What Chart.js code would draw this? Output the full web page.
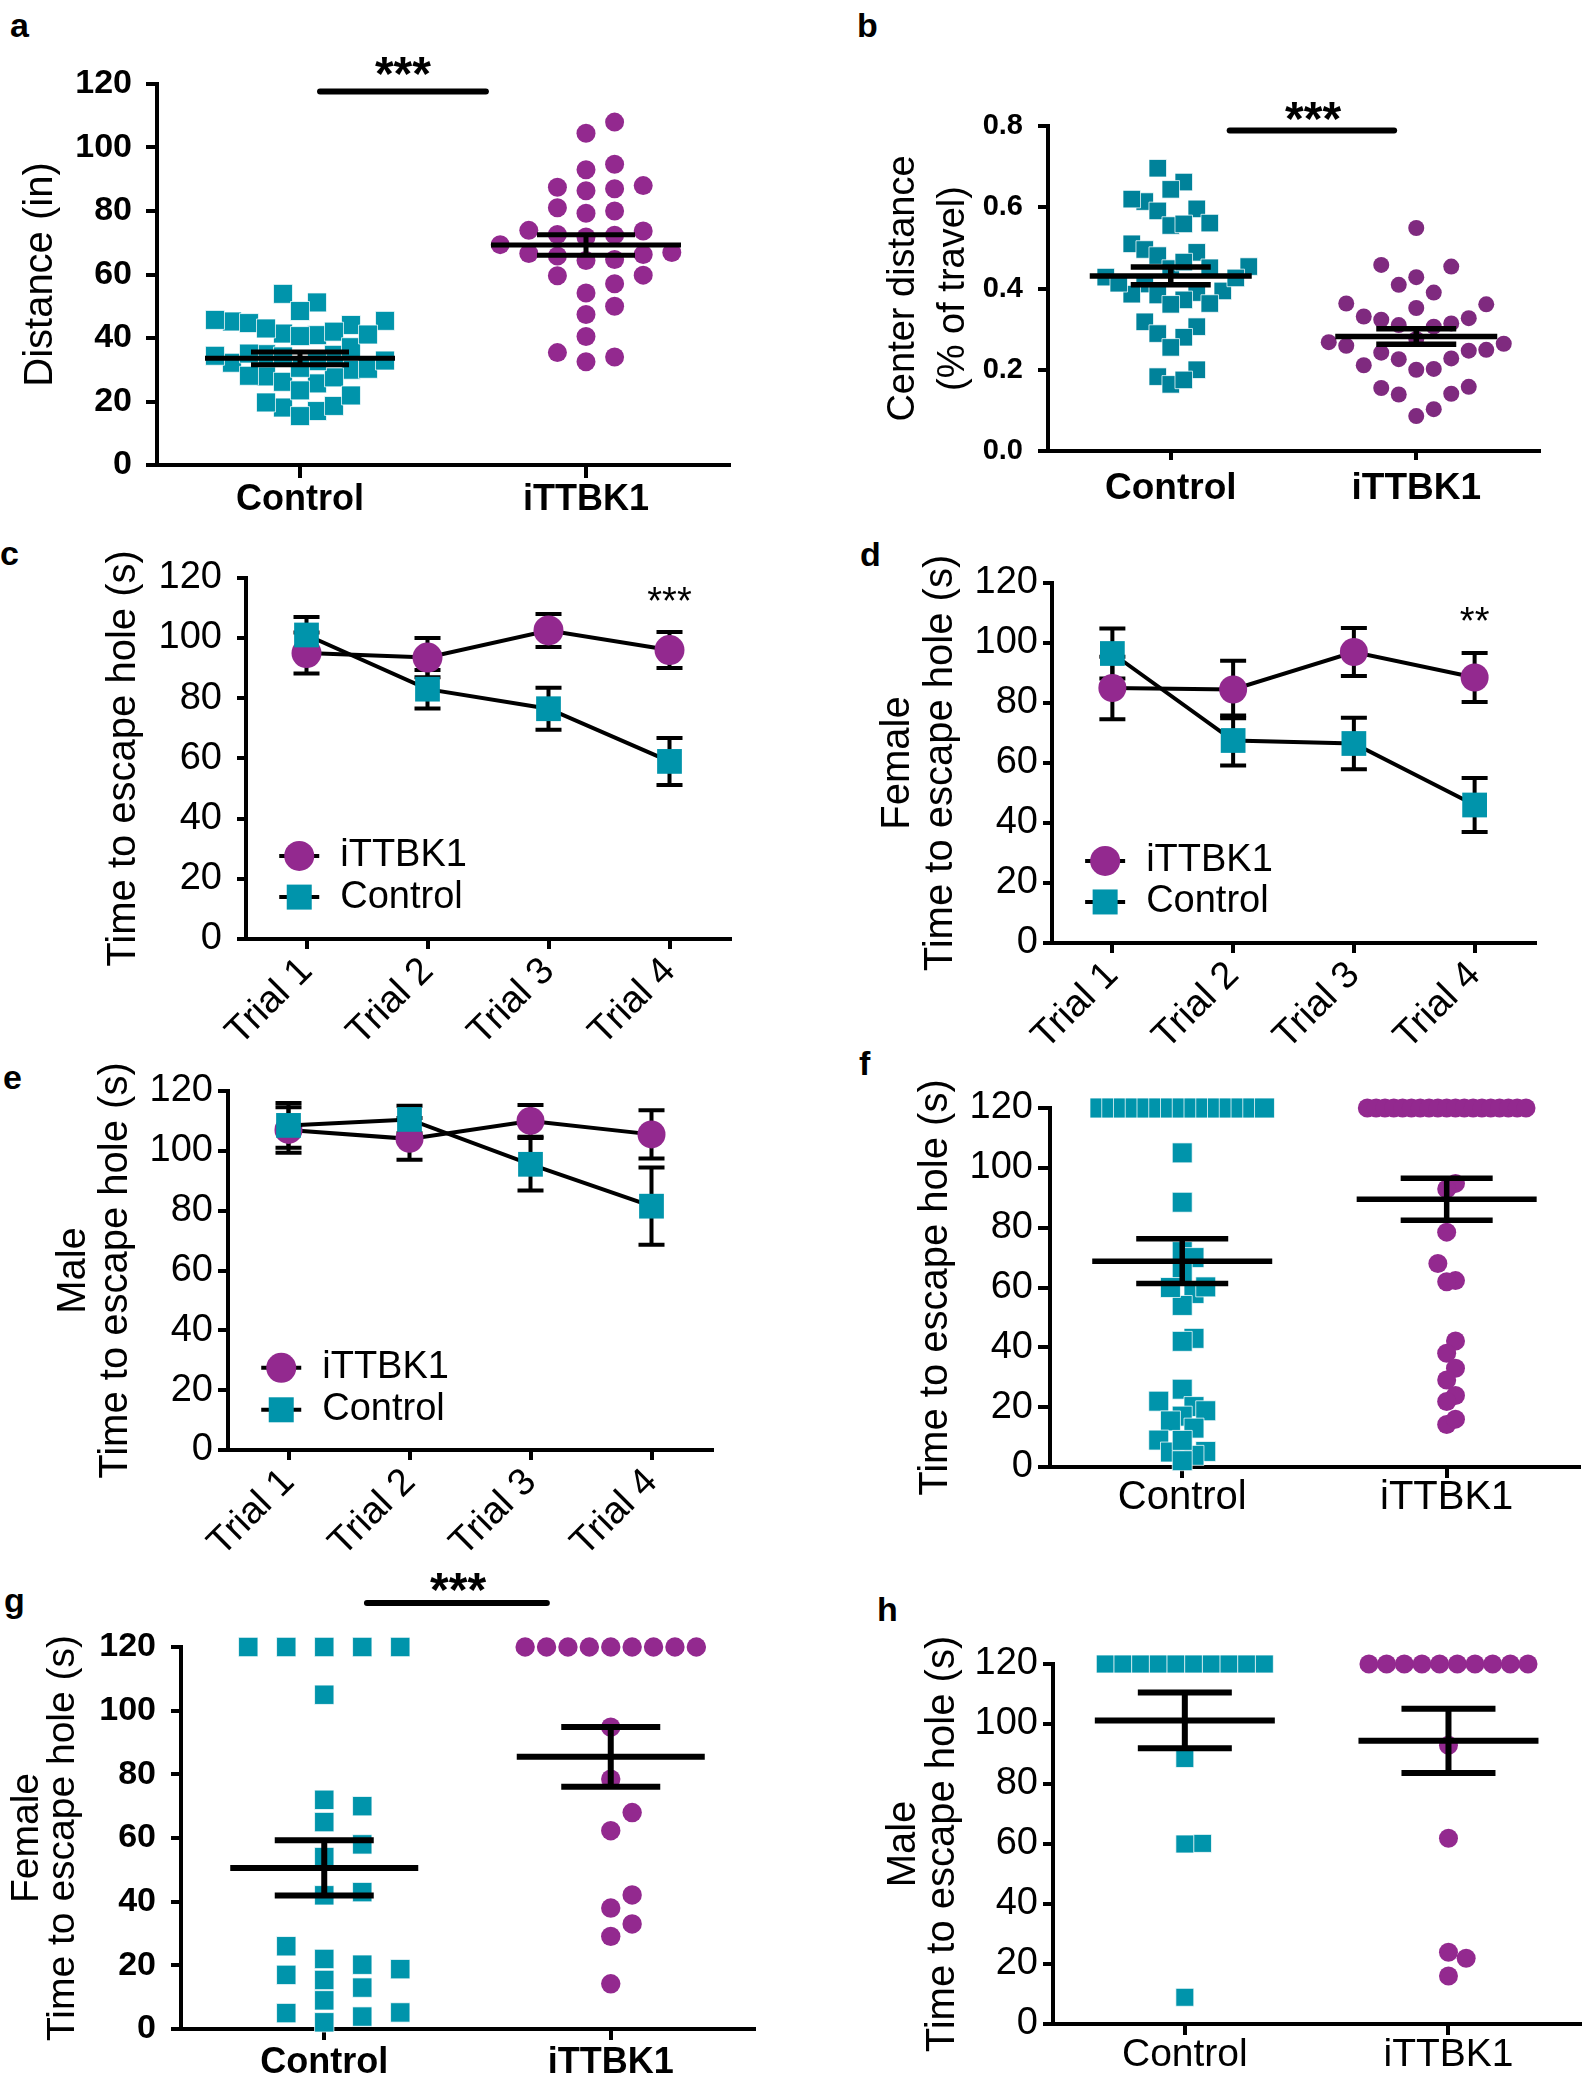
<!DOCTYPE html>
<html>
<head>
<meta charset="utf-8">
<title>iTTBK1 behaviour</title>
<script src="https://cdn.jsdelivr.net/npm/chart.js@4.4.0/dist/chart.umd.min.js"></script>
<style>
  body { margin: 0; background: #fff; }
  #page { position: relative; width: 1594px; height: 2091px; overflow: hidden; font-family: 'Liberation Sans', Arial, sans-serif; }
  canvas { position: absolute; }
  .tag { position: absolute; font-weight: bold; font-size: 34px; line-height: 1; }
</style>
</head>
<body>
<div id="page">
  <span class="tag" style="left:10px;top:8px">a</span>
  <span class="tag" style="left:857px;top:8px">b</span>
  <span class="tag" style="left:0px;top:536px">c</span>
  <span class="tag" style="left:860px;top:537px">d</span>
  <span class="tag" style="left:3px;top:1060px">e</span>
  <span class="tag" style="left:859px;top:1046px">f</span>
  <span class="tag" style="left:4px;top:1583px">g</span>
  <span class="tag" style="left:877px;top:1592px">h</span>
  <canvas id="chartA"></canvas>
  <canvas id="chartB"></canvas>
  <canvas id="chartC"></canvas>
  <canvas id="chartD"></canvas>
  <canvas id="chartE"></canvas>
  <canvas id="chartF"></canvas>
  <canvas id="chartG"></canvas>
  <canvas id="chartH"></canvas>
</div>
<script>
const groups = ['Control', 'iTTBK1'];
const trials = ['Trial 1', 'Trial 2', 'Trial 3', 'Trial 4'];

// a - distance travelled (in)
const distControl = [51.2, 44.1, 34.9, 27.9, 45.2, 45.7, 45.4, 30.0, 40.9, 17.0, 32.2, 25.7, 18.6, 41.4, 34.7, 26.2, 18.1, 53.9, 42.0, 34.4, 27.6, 19.7, 48.5, 40.6, 32.7, 23.5, 15.4, 44.7, 37.1, 30.6, 21.9, 41.1, 35.1, 28.1, 43.0, 30.3, 32.9, 34.2];
const distTTBK1 = [108.0, 104.5, 94.7, 93.0, 88.0, 87.0, 86.4, 87.5, 81.0, 79.3, 80.0, 72.6, 73.7, 73.9, 72.4, 71.8, 69.4, 66.6, 65.8, 66.9, 64.4, 66.3, 64.7, 59.8, 59.6, 57.1, 54.2, 50.0, 47.4, 40.5, 35.4, 34.0, 32.5];
const distMean = [33.6, 69.3];
const distSem = [2.0, 3.2];

// b - centre distance (fraction of travel)
const centreControl = [0.696, 0.662, 0.644, 0.614, 0.620, 0.591, 0.596, 0.561, 0.555, 0.559, 0.510, 0.496, 0.489, 0.481, 0.454, 0.451, 0.449, 0.465, 0.428, 0.411, 0.394, 0.390, 0.386, 0.384, 0.372, 0.413, 0.426, 0.361, 0.363, 0.318, 0.306, 0.280, 0.289, 0.255, 0.200, 0.183, 0.164, 0.175];
const centreTTBK1 = [0.549, 0.458, 0.454, 0.428, 0.409, 0.390, 0.361, 0.363, 0.352, 0.331, 0.323, 0.310, 0.306, 0.314, 0.327, 0.276, 0.264, 0.247, 0.242, 0.226, 0.228, 0.249, 0.259, 0.268, 0.200, 0.202, 0.211, 0.139, 0.158, 0.155, 0.141, 0.086, 0.103];
const centreMean = [0.431, 0.282];
const centreSem = [0.022, 0.019];

// c - escape latency per trial, all mice
const allTTBK1 = [95, 93.5, 102.5, 96];
const allTTBK1Sem = [6.8, 6.5, 5.5, 6];
const allControl = [101, 83, 76.5, 59];
const allControlSem = [6, 6.4, 7, 7.8];

// d - females
const femTTBK1 = [85, 84.5, 97, 88.5];
const femTTBK1Sem = [10.4, 9.6, 8, 8.2];
const femControl = [96.5, 67.5, 66.5, 46];
const femControlSem = [8.3, 8.3, 8.6, 9];

// e - males
const maleTTBK1 = [107, 104, 110, 105.5];
const maleTTBK1Sem = [7.6, 7, 5.3, 8.1];
const maleControl = [108.5, 110.5, 95.5, 81.5];
const maleControlSem = [7.5, 4.6, 8.8, 12.9];

// g / h - trial 4 latency per mouse (120 = did not escape)
const femT4Control = [120, 120, 120, 120, 120, 105, 72, 70, 65, 58, 54, 43, 42, 26, 22, 20.2, 18.8, 17, 15.4, 13, 9, 5.2, 5, 3.9, 2.1];
const femT4TTBK1 = [120, 120, 120, 120, 120, 120, 120, 120, 120, 94.8, 78.5, 68, 62.3, 42.1, 38, 33, 29.1, 14.2];
const maleT4Control = [120, 120, 120, 120, 120, 120, 120, 120, 120, 120, 88.5, 60.2, 60, 8.9];
const maleT4TTBK1 = [120, 120, 120, 120, 120, 120, 120, 120, 120, 120, 92.9, 61.9, 23.9, 21.9, 16];
// f - both sexes pooled
const allT4Control = femT4Control.concat(maleT4Control);
const allT4TTBK1 = femT4TTBK1.concat(maleT4TTBK1);

const femT4Mean = [50.6, 85.5], femT4Sem = [8.7, 9.4];
const maleT4Mean = [101.2, 94.4], maleT4Sem = [9.3, 10.7];
const allT4Mean = [68.8, 89.5], allT4Sem = [7.5, 7.0];

const TEAL = '#0094AB';
const PURPLE = '#93298F';
const TEAL_B = '#00829A';
const PURPLE_B = '#7F2A7F';
const FONT = "'Liberation Sans', Arial, sans-serif";

Chart.defaults.font.family = FONT;
Chart.defaults.color = '#000';
Chart.defaults.animation = false;
Chart.defaults.events = [];
Chart.defaults.plugins.legend.display = false;
Chart.defaults.plugins.tooltip.enabled = false;

// GraphPad style column scatter: equal values become a centred row,
// the others are pushed sideways until they stop overlapping
function swarm(values, gap) {
  const cols = new Array(values.length);
  const counts = {};
  values.forEach(v => { counts[v] = (counts[v] || 0) + 1; });
  const rowSeen = {};
  const taken = [];
  values.map((v, i) => i).sort((p, q) => values[p] - values[q]).forEach(i => {
    const v = values[i];
    if (counts[v] >= 4) {
      const k = rowSeen[v] = (rowSeen[v] || 0) + 1;
      cols[i] = k - 1 - (counts[v] - 1) / 2;
      return;
    }
    for (let k = 0; ; k++) {
      const c = k % 2 ? (k + 1) / 2 : -k / 2;
      if (!taken.some(t => t.c === c && Math.abs(t.v - v) < gap)) {
        taken.push({ c, v });
        cols[i] = c;
        return;
      }
    }
  });
  return cols;
}

function meanSem(mean, sem, st) {
  return {
    id: 'meanSem',
    afterDatasetsDraw(chart) {
      const { ctx, scales: { x, y } } = chart;
      ctx.save();
      ctx.strokeStyle = '#000';
      ctx.lineWidth = st.width;
      mean.forEach((m, i) => {
        const cx = x.getPixelForValue(i + 1);
        const my = y.getPixelForValue(m);
        const hi = y.getPixelForValue(m + sem[i]);
        const lo = y.getPixelForValue(m - sem[i]);
        ctx.beginPath();
        ctx.moveTo(cx - st.half, my); ctx.lineTo(cx + st.half, my);
        ctx.moveTo(cx - st.cap, hi); ctx.lineTo(cx + st.cap, hi);
        ctx.moveTo(cx - st.cap, lo); ctx.lineTo(cx + st.cap, lo);
        ctx.moveTo(cx, hi); ctx.lineTo(cx, lo);
        ctx.stroke();
      });
      ctx.restore();
    }
  };
}

function errorBars(series, cap, width) {
  return {
    id: 'errorBars',
    beforeDatasetsDraw(chart) {
      const { ctx, scales: { x, y } } = chart;
      ctx.save();
      ctx.strokeStyle = '#000';
      ctx.lineWidth = width;
      series.forEach(s => s.mean.forEach((m, i) => {
        const px = x.getPixelForValue(i);
        const top = y.getPixelForValue(m + s.sem[i]);
        const bot = y.getPixelForValue(m - s.sem[i]);
        ctx.beginPath();
        ctx.moveTo(px, top); ctx.lineTo(px, bot);
        ctx.moveTo(px - cap, top); ctx.lineTo(px + cap, top);
        ctx.moveTo(px - cap, bot); ctx.lineTo(px + cap, bot);
        ctx.stroke();
      }));
      ctx.restore();
    }
  };
}

function lineLegend(items, o) {
  return {
    id: 'lineLegend',
    afterDraw(chart) {
      const { ctx, chartArea: a } = chart;
      ctx.save();
      items.forEach((it, k) => {
        const cx = a.left + o.fx * (a.right - a.left);
        const cy = a.top + (o.fy + k * o.dy) * (a.bottom - a.top);
        ctx.strokeStyle = '#000';
        ctx.lineWidth = 4;
        ctx.beginPath(); ctx.moveTo(cx - 20, cy); ctx.lineTo(cx + 20, cy); ctx.stroke();
        ctx.fillStyle = it.color;
        if (it.shape === 'circle') {
          ctx.beginPath(); ctx.arc(cx, cy, it.r, 0, Math.PI * 2); ctx.fill();
        } else {
          ctx.fillRect(cx - it.r, cy - it.r, it.r * 2, it.r * 2);
        }
        ctx.fillStyle = '#000';
        ctx.font = o.size + 'px ' + FONT;
        ctx.textBaseline = 'middle';
        ctx.fillText(it.label, cx + 41, cy);
      });
      ctx.restore();
    }
  };
}

function sigMark(m) {
  return {
    id: 'sigMark',
    afterDraw(chart) {
      const { ctx, scales: { x, y } } = chart;
      ctx.save();
      if (m.bar) {
        const yy = y.getPixelForValue(m.bar[2]);
        ctx.strokeStyle = '#000';
        ctx.lineWidth = 6;
        ctx.lineCap = 'round';
        ctx.beginPath();
        ctx.moveTo(x.getPixelForValue(m.bar[0]), yy);
        ctx.lineTo(x.getPixelForValue(m.bar[1]), yy);
        ctx.stroke();
      }
      ctx.fillStyle = '#000';
      ctx.font = m.font;
      ctx.textAlign = 'center';
      ctx.textBaseline = 'alphabetic';
      ctx.fillText(m.text, x.getPixelForValue(m.at[0]), y.getPixelForValue(m.at[1]));
      ctx.restore();
    }
  };
}

function place(id, box) {
  const c = document.getElementById(id);
  c.width = box.w;
  c.height = box.h;
  c.style.left = box.x + 'px';
  c.style.top = box.y + 'px';
  return c;
}

function yScale(box, o) {
  return {
    min: o.min,
    max: o.max,
    afterFit: s => { s.width = box.yW; },
    border: { color: '#000', width: 4 },
    grid: { drawOnChartArea: false, color: '#000', lineWidth: 4, tickLength: o.tick },
    ticks: {
      stepSize: o.step,
      padding: o.pad,
      font: { size: o.size, weight: o.bold ? 'bold' : 'normal' },
      callback: o.fmt || (v => v)
    },
    title: {
      display: true,
      text: o.title,
      font: { size: o.tsize, lineHeight: o.tlh },
      padding: { top: o.tpad, bottom: 0 }
    }
  };
}

function groupScale(box, o) {
  return {
    type: 'linear',
    min: 0.5,
    max: 2.5,
    afterFit: s => { s.height = box.xH; },
    afterBuildTicks: s => { s.ticks = [{ value: 1 }, { value: 2 }]; },
    border: { color: '#000', width: 4 },
    grid: { drawOnChartArea: false, color: '#000', lineWidth: 4, tickLength: o.tick },
    ticks: {
      padding: o.pad,
      autoSkip: false,
      maxRotation: 0,
      font: { size: o.size, weight: o.bold ? 'bold' : 'normal', lineHeight: 1 },
      callback: v => groups[v - 1]
    }
  };
}

function trialScale(box) {
  return {
    type: 'category',
    offset: true,
    afterFit: s => { s.height = box.xH; },
    border: { color: '#000', width: 4 },
    grid: { offset: false, drawOnChartArea: false, color: '#000', lineWidth: 4, tickLength: 10 },
    ticks: { minRotation: 45, maxRotation: 45, autoSkip: false, padding: 0, font: { size: 38 } }
  };
}

function dotChart(id, box, o) {
  const ppx = (box.w - box.right - box.yW) / 2;
  const ppy = (box.h - box.top - box.xH) / (o.y.max - o.y.min);
  const datasets = o.series.map((s, g) => {
    const cols = swarm(s.values, s.gap / ppy);
    return {
      type: 'scatter',
      label: groups[g],
      data: s.values.map((v, i) => ({ x: g + 1 + cols[i] * s.step / ppx, y: v })),
      pointStyle: s.shape,
      pointRadius: s.r,
      pointBackgroundColor: s.color,
      pointBorderColor: s.shape === 'rect' ? 'rgba(255,255,255,0.75)' : s.color,
      pointBorderWidth: s.shape === 'rect' ? 1 : 0,
      clip: false
    };
  });
  const plugins = [meanSem(o.mean, o.sem, o.bar)];
  if (o.sig) plugins.push(sigMark(o.sig));
  return new Chart(place(id, box), {
    type: 'scatter',
    data: { datasets },
    options: {
      responsive: false,
      layout: { padding: { left: 0, top: box.top, right: box.right, bottom: 0 } },
      scales: { x: groupScale(box, o.x), y: yScale(box, o.y) }
    },
    plugins
  });
}

function trialChart(id, box, o) {
  const ds = (label, vals, shape, r, color, order) => ({
    label,
    data: vals,
    pointStyle: shape,
    pointRadius: r,
    pointBackgroundColor: color,
    pointBorderWidth: 0,
    borderColor: '#000',
    borderWidth: 4,
    tension: 0,
    order,
    clip: false
  });
  const plugins = [
    errorBars([{ mean: o.ttbk, sem: o.ttbkSem }, { mean: o.ctrl, sem: o.ctrlSem }], 13, 4),
    lineLegend([
      { label: 'iTTBK1', shape: 'circle', r: 15, color: PURPLE },
      { label: 'Control', shape: 'rect', r: 12.5, color: TEAL }
    ], o.legend)
  ];
  if (o.sig) plugins.push(sigMark(o.sig));
  return new Chart(place(id, box), {
    type: 'line',
    data: {
      labels: trials,
      datasets: [
        ds('iTTBK1', o.ttbk, 'circle', o.rc, PURPLE, 1),
        ds('Control', o.ctrl, 'rect', 17.5, TEAL, 0)
      ]
    },
    options: {
      responsive: false,
      layout: { padding: { left: 0, top: box.top, right: box.right, bottom: 0 } },
      scales: { x: trialScale(box), y: yScale(box, o.y) }
    },
    plugins
  });
}

const latencyAxis = { min: 0, max: 120, step: 20, size: 38 };

// a
dotChart('chartA', { x: 0, y: 30, w: 790, h: 500, top: 54, right: 61, yW: 157, xH: 65 }, {
  series: [
    { values: distControl, shape: 'rect', r: 13.4, color: TEAL, step: 17, gap: 22 },
    { values: distTTBK1, shape: 'circle', r: 9.5, color: PURPLE, step: 28.6, gap: 19 }
  ],
  mean: distMean, sem: distSem, bar: { half: 95, cap: 49, width: 5 },
  x: { tick: 13, pad: 4, size: 36, bold: true },
  y: { min: 0, max: 120, step: 20, tick: 11, pad: 14, size: 34, bold: true,
       title: 'Distance (in)', tsize: 40, tlh: 1.2, tpad: 17 },
  sig: { bar: [1.07, 1.65, 117.6], text: '***', at: [1.36, 118], font: 'bold 48px ' + FONT }
});

// b
dotChart('chartB', { x: 800, y: 30, w: 794, h: 500, top: 96, right: 55, yW: 248, xH: 79 }, {
  series: [
    { values: centreControl, shape: 'rect', r: 12.4, color: TEAL_B, step: 13, gap: 34 },
    { values: centreTTBK1, shape: 'circle', r: 8, color: PURPLE_B, step: 17.5, gap: 30 }
  ],
  mean: centreMean, sem: centreSem, bar: { half: 81, cap: 40, width: 5.5 },
  x: { tick: 9, pad: 10, size: 37, bold: true },
  y: { min: 0, max: 0.8, step: 0.2, tick: 10, pad: 15, size: 29, bold: true, fmt: v => v.toFixed(1),
       title: ['Center distance', '(% of travel)'], tsize: 38, tlh: 1.316, tpad: 79 },
  sig: { bar: [1.24, 1.91, 0.789], text: '***', at: [1.58, 0.777], font: 'bold 48px ' + FONT }
});

// c
trialChart('chartC', { x: 0, y: 540, w: 790, h: 520, top: 37, right: 60, yW: 246, xH: 121 }, {
  ttbk: allTTBK1, ttbkSem: allTTBK1Sem, ctrl: allControl, ctrlSem: allControlSem, rc: 15,
  y: Object.assign({ tick: 9, pad: 15, title: 'Time to escape hole (s)', tsize: 40, tlh: 1.2, tpad: 100 }, latencyAxis),
  legend: { fx: 0.11, fy: 0.77, dy: 0.114, size: 38 },
  sig: { text: '***', at: [3, 108], font: '38px ' + FONT }
});

// d
trialChart('chartD', { x: 800, y: 540, w: 794, h: 520, top: 43, right: 59, yW: 252, xH: 117 }, {
  ttbk: femTTBK1, ttbkSem: femTTBK1Sem, ctrl: femControl, ctrlSem: femControlSem, rc: 14,
  y: Object.assign({ tick: 9, pad: 5, title: ['Female', 'Time to escape hole (s)'], tsize: 40, tlh: 1.075, tpad: 76 }, latencyAxis),
  legend: { fx: 0.11, fy: 0.772, dy: 0.114, size: 38 },
  sig: { text: '**', at: [3, 103], font: '38px ' + FONT }
});

// e
trialChart('chartE', { x: 0, y: 1060, w: 790, h: 500, top: 31, right: 78, yW: 228, xH: 110 }, {
  ttbk: maleTTBK1, ttbkSem: maleTTBK1Sem, ctrl: maleControl, ctrlSem: maleControlSem, rc: 14,
  y: Object.assign({ tick: 10, pad: 5, title: ['Male', 'Time to escape hole (s)'], tsize: 40, tlh: 1.05, tpad: 53 }, latencyAxis),
  legend: { fx: 0.11, fy: 0.771, dy: 0.117, size: 38 }
});

// f
dotChart('chartF', { x: 800, y: 1060, w: 794, h: 500, top: 48, right: 4, yW: 250, xH: 93 }, {
  series: [
    { values: allT4Control, shape: 'rect', r: 14.1, color: TEAL, step: 12, gap: 20 },
    { values: allT4TTBK1, shape: 'circle', r: 9.5, color: PURPLE, step: 9, gap: 19 }
  ],
  mean: allT4Mean, sem: allT4Sem, bar: { half: 90, cap: 46, width: 5.5 },
  x: { tick: 11, pad: 0, size: 40, bold: false },
  y: Object.assign({ tick: 12, pad: 5, title: 'Time to escape hole (s)', tsize: 40, tlh: 1.2, tpad: 112 }, latencyAxis)
});

// g
dotChart('chartG', { x: 0, y: 1560, w: 790, h: 531, top: 87, right: 36, yW: 181, xH: 62 }, {
  series: [
    { values: femT4Control, shape: 'rect', r: 13.7, color: TEAL, step: 38, gap: 19 },
    { values: femT4TTBK1, shape: 'circle', r: 9.7, color: PURPLE, step: 21.4, gap: 19 }
  ],
  mean: femT4Mean, sem: femT4Sem, bar: { half: 94, cap: 49.5, width: 6 },
  x: { tick: 11, pad: 5.5, size: 36, bold: true },
  y: { min: 0, max: 120, step: 20, tick: 10, pad: 15, size: 34, bold: true,
       title: ['Female', 'Time to escape hole (s)'], tsize: 39, tlh: 0.94, tpad: 8.5 },
  sig: { bar: [1.149, 1.777, 133.8], text: '***', at: [1.467, 133], font: 'bold 48px ' + FONT }
});

// h
dotChart('chartH', { x: 800, y: 1560, w: 794, h: 531, top: 104, right: 4, yW: 253, xH: 67 }, {
  series: [
    { values: maleT4Control, shape: 'rect', r: 12.7, color: TEAL, step: 18, gap: 19 },
    { values: maleT4TTBK1, shape: 'circle', r: 9.5, color: PURPLE, step: 18, gap: 19 }
  ],
  mean: maleT4Mean, sem: maleT4Sem, bar: { half: 90, cap: 47, width: 6 },
  x: { tick: 11, pad: 1, size: 39, bold: false },
  y: Object.assign({ tick: 10, pad: 5, title: ['Male', 'Time to escape hole (s)'], tsize: 40, tlh: 0.975, tpad: 84.5 }, latencyAxis)
});
</script>
</body>
</html>
